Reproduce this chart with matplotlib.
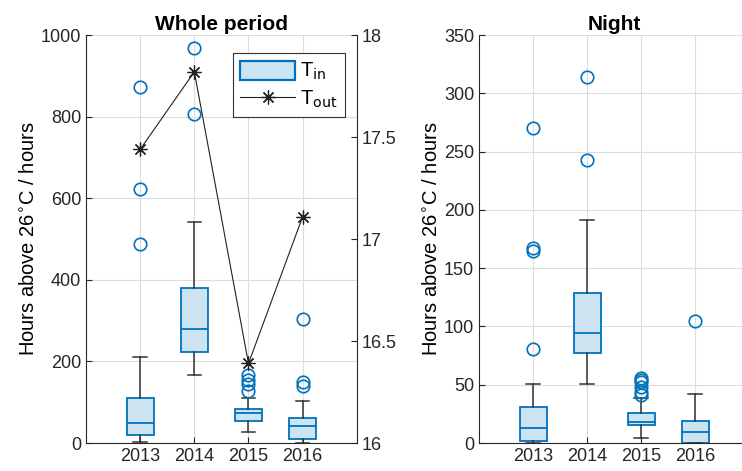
import numpy as np
import matplotlib.pyplot as plt
from matplotlib.patches import Patch
from matplotlib.lines import Line2D

plt.rcParams['font.family'] = ['Liberation Sans', 'DejaVu Sans']
plt.rcParams['font.size'] = 13

years = ['2013', '2014', '2015', '2016']

# whole period: hours above 26 C (box stats)
whole_q1 = [20, 223, 54, 10]
whole_med = [49, 279, 73, 42]
whole_q3 = [110, 380, 83, 61]
whole_lo = [3, 167, 27, 0]
whole_hi = [211, 543, 110, 103]
whole_fliers = [[873, 623, 488], [968, 806], [166, 155, 145, 128], [304, 150, 140]]

# outdoor temperature (right axis)
t_out = [17.44, 17.82, 16.39, 17.11]

# night only
night_q1 = [2, 77.5, 15.5, 0]
night_med = [13, 94.5, 18, 9.7]
night_q3 = [31, 129, 26, 18.5]
night_lo = [0, 51, 4, 0]
night_hi = [50.5, 191, 39, 42]
night_fliers = [[270, 167, 165, 81], [314, 243], [56, 54, 52, 48, 44, 41], [105]]

blue = '#0072BD'
light = '#cce3f2'
dark = '#262626'


def stats(q1, med, q3, lo, hi, fl):
    out = []
    for i in range(len(q1)):
        out.append({'q1': q1[i], 'med': med[i], 'q3': q3[i],
                    'whislo': lo[i], 'whishi': hi[i], 'fliers': fl[i]})
    return out


def draw_box(ax, st):
    ax.bxp(st, positions=[1, 2, 3, 4], widths=0.5, patch_artist=True,
           boxprops=dict(facecolor=light, edgecolor=blue, linewidth=1.3),
           medianprops=dict(color=blue, linewidth=1.3),
           whiskerprops=dict(color='#333333', linewidth=1.1),
           capprops=dict(color='#333333', linewidth=1.1),
           flierprops=dict(marker='o', markerfacecolor='none', markeredgecolor=blue,
                           markersize=9, markeredgewidth=1.2),
           manage_ticks=False, zorder=3)


def style(ax):
    ax.set_xlim(0, 5)
    ax.set_xticks([1, 2, 3, 4])
    ax.set_xticklabels(years)
    ax.grid(True, color='#dcdcdc', linewidth=0.8)
    ax.set_axisbelow(True)
    ax.tick_params(direction='in', colors=dark, labelcolor=dark, length=4)
    ax.spines['top'].set_visible(False)
    ax.spines['right'].set_visible(False)
    for s in ['left', 'bottom']:
        ax.spines[s].set_color(dark)


fig = plt.figure(figsize=(7.42, 4.71), dpi=100)

ax1 = fig.add_axes([0.1159, 0.0594, 0.365, 0.866])
draw_box(ax1, stats(whole_q1, whole_med, whole_q3, whole_lo, whole_hi, whole_fliers))
style(ax1)
ax1.set_ylim(0, 1000)
ax1.set_yticks(np.arange(0, 1001, 200))
ax1.set_ylabel(r'Hours above 26$^{\circ}$C / hours', fontsize=14.5, labelpad=2)
ax1.set_title('Whole period', fontweight='bold', fontsize=15, pad=4)

ax2 = ax1.twinx()
ax2.plot([1, 2, 3, 4], t_out, color='#222222', linewidth=0.8,
         marker=(8, 2, 0), markersize=10, markeredgewidth=0.9, zorder=4)
ax2.set_xlim(0, 5)
ax2.set_ylim(16, 18)
ax2.set_yticks([16, 16.5, 17, 17.5, 18])
ax2.set_yticklabels(['16', '16.5', '17', '17.5', '18'])
ax2.tick_params(direction='in', colors=dark, labelcolor=dark, length=4)
ax2.spines['top'].set_visible(False)
ax2.spines['left'].set_visible(False)
ax2.spines['bottom'].set_visible(False)
ax2.spines['right'].set_color(dark)

handles = [Patch(facecolor=light, edgecolor=blue, linewidth=1.6),
           Line2D([0], [0], color='#222222', linewidth=0.8, marker=(8, 2, 0),
                  markersize=10, markeredgewidth=0.9)]
leg = ax2.legend(handles, [r'T$_{\rm in}$', r'T$_{\rm out}$'], loc='upper right',
                 bbox_to_anchor=(0.955, 0.955), fancybox=False, framealpha=1,
                 edgecolor='#333333', handlelength=2.75, handleheight=1.1,
                 borderpad=0.35, labelspacing=0.3, handletextpad=0.25,
                 borderaxespad=0, fontsize=14.5)
leg.get_frame().set_linewidth(0.8)

ax3 = fig.add_axes([0.6456, 0.0594, 0.364, 0.866])
draw_box(ax3, stats(night_q1, night_med, night_q3, night_lo, night_hi, night_fliers))
style(ax3)
ax3.set_ylim(0, 350)
ax3.set_yticks(np.arange(0, 351, 50))
ax3.set_ylabel(r'Hours above 26$^{\circ}$C / hours', fontsize=14.5, labelpad=2)
ax3.set_title('Night', fontweight='bold', fontsize=15, pad=4)

fig.savefig('out.png', dpi=100)
